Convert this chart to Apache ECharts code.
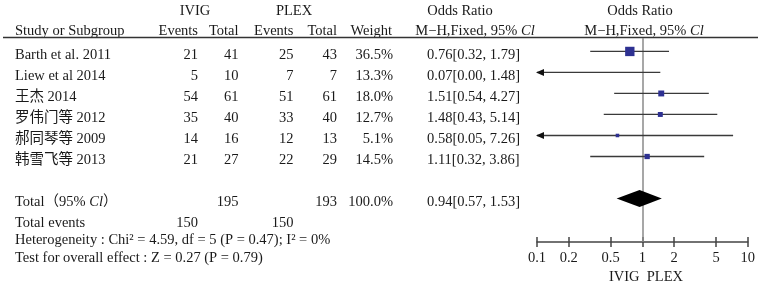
<!DOCTYPE html>
<html>
<head>
<meta charset="utf-8">
<title>forest plot</title>
<script src="https://cdn.jsdelivr.net/npm/echarts@6/dist/echarts.min.js"></script>
<style>
  html, body { margin: 0; padding: 0; background: #fff; }
  #main { width: 758px; height: 291px; }
</style>
</head>
<body>
<div id="main"></div>
<script>
  // study rows
  var studies = ['Barth et al. 2011', 'Liew et al 2014', '王杰 2014', '罗伟门等 2012', '郝同琴等 2009', '韩雪飞等 2013'];
  var ivigEvents = [21, 5, 54, 35, 14, 21];
  var ivigTotal = [41, 10, 61, 40, 16, 27];
  var plexEvents = [25, 7, 51, 33, 12, 22];
  var plexTotal = [43, 7, 61, 40, 13, 29];
  var weights = [36.5, 13.3, 18.0, 12.7, 5.1, 14.5];
  var orValue = [0.76, 0.07, 1.51, 1.48, 0.58, 1.11];
  var ciLow = [0.32, 0.00, 0.54, 0.43, 0.05, 0.32];
  var ciHigh = [1.79, 1.48, 4.27, 5.14, 7.26, 3.86];
  // pooled row
  var totalCounts = [195, 193];
  var totalEvents = [150, 150];
  var totalWeight = 100.0;
  var pooled = [0.94, 0.57, 1.53];
  var pooledRow = 7;
  // axis
  var tickValues = [0.1, 0.2, 0.5, 1, 2, 5, 10];

  var FONT = '"Liberation Serif", "Noto Sans CJK SC", serif';
  var FS = 14.5;
  var INK = '#1a1a1a';
  var xMin = tickValues[0], xMax = tickValues[tickValues.length - 1];

  var chart = echarts.init(document.getElementById('main'));

  function renderCI(params, api) {
    var i = params.dataIndex;
    var row = api.value(1);
    var lo = Math.max(ciLow[i], xMin), hi = Math.min(ciHigh[i], xMax);
    var p1 = api.coord([lo, row]), p2 = api.coord([hi, row]);
    var y = p1[1];
    var kids = [{
      type: 'line',
      shape: { x1: p1[0], y1: y, x2: p2[0], y2: y },
      style: { stroke: '#3a3a3a', lineWidth: 1.3 }
    }];
    if (ciLow[i] < xMin) {
      kids.push({ type: 'polygon', shape: { points: [[p1[0] - 1, y], [p1[0] + 7, y - 3.5], [p1[0] + 7, y + 3.5]] }, style: { fill: '#111' } });
    }
    if (ciHigh[i] > xMax) {
      kids.push({ type: 'polygon', shape: { points: [[p2[0] + 1, y], [p2[0] - 7, y - 3.5], [p2[0] - 7, y + 3.5]] }, style: { fill: '#111' } });
    }
    if (orValue[i] >= xMin && orValue[i] <= xMax) {
      var c = api.coord([orValue[i], row]);
      var s = 2.6 + weights[i] * 0.185;
      kids.push({ type: 'rect', shape: { x: c[0] - s / 2, y: c[1] - s / 2, width: s, height: s }, style: { fill: '#2e3192' } });
    }
    return { type: 'group', children: kids };
  }

  function renderDiamond(params, api) {
    var row = api.value(1);
    var c = api.coord([pooled[0], row]);
    var l = api.coord([pooled[1], row]);
    var r = api.coord([pooled[2], row]);
    var h = 8.5;
    return {
      type: 'polygon',
      shape: { points: [[l[0], c[1]], [c[0], c[1] - h], [r[0], c[1]], [c[0], c[1] + h]] },
      style: { fill: '#000' }
    };
  }

  var axisBase = {
    type: 'log',
    logBase: 10,
    min: xMin,
    max: xMax,
    gridIndex: 0,
    position: 'bottom',
    splitLine: { show: false }
  };

  chart.setOption({
    animation: false,
    grid: { left: 537, right: 10, top: 38, bottom: 49 },
    xAxis: [
      Object.assign({}, axisBase, {
        axisLine: { show: true, onZero: false, lineStyle: { color: '#444', width: 1.5 } },
        axisTick: { show: true, customValues: tickValues, length: 5, lineStyle: { color: '#444', width: 1.5 } },
        axisLabel: {
          customValues: tickValues, margin: 9, fontSize: FS, color: INK, fontFamily: FONT,
          formatter: function (v) { return String(Math.round(v * 10) / 10); }
        }
      }),
      Object.assign({}, axisBase, {
        axisLine: { show: false, onZero: false },
        axisTick: { show: true, inside: true, customValues: tickValues, length: 5, lineStyle: { color: '#444', width: 1.5 } },
        axisLabel: { show: false }
      })
    ],
    yAxis: { type: 'value', min: -0.64, max: 9.07, inverse: true, show: false },
    series: [
      {
        type: 'custom',
        clip: false,
        renderItem: renderCI,
        encode: { x: 0, y: 1 },
        data: studies.map(function (s, i) { return [orValue[i], i]; }),
        markLine: {
          silent: true,
          z: 1,
          symbol: 'none',
          label: { show: false },
          lineStyle: { color: '#8a8a8a', width: 1.5, type: 'solid' },
          data: [{ xAxis: 1 }]
        },
        z: 3
      },
      {
        type: 'custom',
        renderItem: renderDiamond,
        encode: { x: 0, y: 1 },
        data: [[pooled[0], pooledRow]],
        z: 6
      }
    ]
  });

  // table text, placed on the same row scale as the plot
  function rowY(i) { return chart.convertToPixel({ yAxisIndex: 0 }, i) + 3.5; }
  function txt(x, y, s, align, extra) {
    var st = { text: s, x: x, y: y, align: align || 'left', verticalAlign: 'middle', font: FS + 'px ' + FONT, fill: INK };
    if (extra) Object.assign(st, extra);
    return { type: 'text', style: st, silent: true };
  }
  function ciText(o, l, h) { return o.toFixed(2) + '[' + l.toFixed(2) + ', ' + h.toFixed(2) + ']'; }

  var col = { study: 15, ivE: 198, ivT: 238.5, plE: 293.5, plT: 337, w: 393, or: 427 };
  var els = [];
  var rich = { it: { fontStyle: 'italic', fontSize: FS, fontFamily: FONT, fill: INK } };

  // headers
  els.push(txt(195, 11, 'IVIG', 'center'));
  els.push(txt(294, 11, 'PLEX', 'center'));
  els.push(txt(460, 11, 'Odds Ratio', 'center'));
  els.push(txt(640, 11, 'Odds Ratio', 'center'));
  els.push(txt(col.study, 31, 'Study or Subgroup'));
  els.push(txt(col.ivE, 31, 'Events', 'right'));
  els.push(txt(col.ivT, 31, 'Total', 'right'));
  els.push(txt(col.plE, 31, 'Events', 'right'));
  els.push(txt(col.plT, 31, 'Total', 'right'));
  els.push(txt(col.w - 1, 31, 'Weight', 'right'));
  els.push(txt(475, 31, 'M−H,Fixed, 95% {it|Cl}', 'center', { rich: rich }));
  els.push(txt(644, 31, 'M−H,Fixed, 95% {it|Cl}', 'center', { rich: rich }));
  els.push({ type: 'line', shape: { x1: 3, y1: 37.5, x2: 758, y2: 37.5 }, style: { stroke: '#333', lineWidth: 1.3 }, silent: true });

  studies.forEach(function (s, i) {
    var y = rowY(i);
    els.push(txt(col.study, y, s));
    els.push(txt(col.ivE, y, String(ivigEvents[i]), 'right'));
    els.push(txt(col.ivT, y, String(ivigTotal[i]), 'right'));
    els.push(txt(col.plE, y, String(plexEvents[i]), 'right'));
    els.push(txt(col.plT, y, String(plexTotal[i]), 'right'));
    els.push(txt(col.w, y, weights[i].toFixed(1) + '%', 'right'));
    els.push(txt(col.or, y, ciText(orValue[i], ciLow[i], ciHigh[i])));
  });

  var ty = rowY(pooledRow);
  els.push(txt(col.study, ty, 'Total（95% {it|Cl}）', 'left', { rich: rich }));
  els.push(txt(col.ivT, ty, String(totalCounts[0]), 'right'));
  els.push(txt(col.plT, ty, String(totalCounts[1]), 'right'));
  els.push(txt(col.w, ty, totalWeight.toFixed(1) + '%', 'right'));
  els.push(txt(col.or, ty, ciText(pooled[0], pooled[1], pooled[2])));

  els.push(txt(col.study, 223.5, 'Total events'));
  els.push(txt(col.ivE, 223.5, String(totalEvents[0]), 'right'));
  els.push(txt(col.plE, 223.5, String(totalEvents[1]), 'right'));
  els.push(txt(col.study, 240, 'Heterogeneity : Chi² = 4.59, df = 5 (P = 0.47); I² = 0%'));
  els.push(txt(col.study, 258, 'Test for overall effect : Z = 0.27 (P = 0.79)'));

  els.push(txt(646, 277, 'IVIG  PLEX', 'center'));

  chart.setOption({ graphic: { elements: els } });
</script>
</body>
</html>
